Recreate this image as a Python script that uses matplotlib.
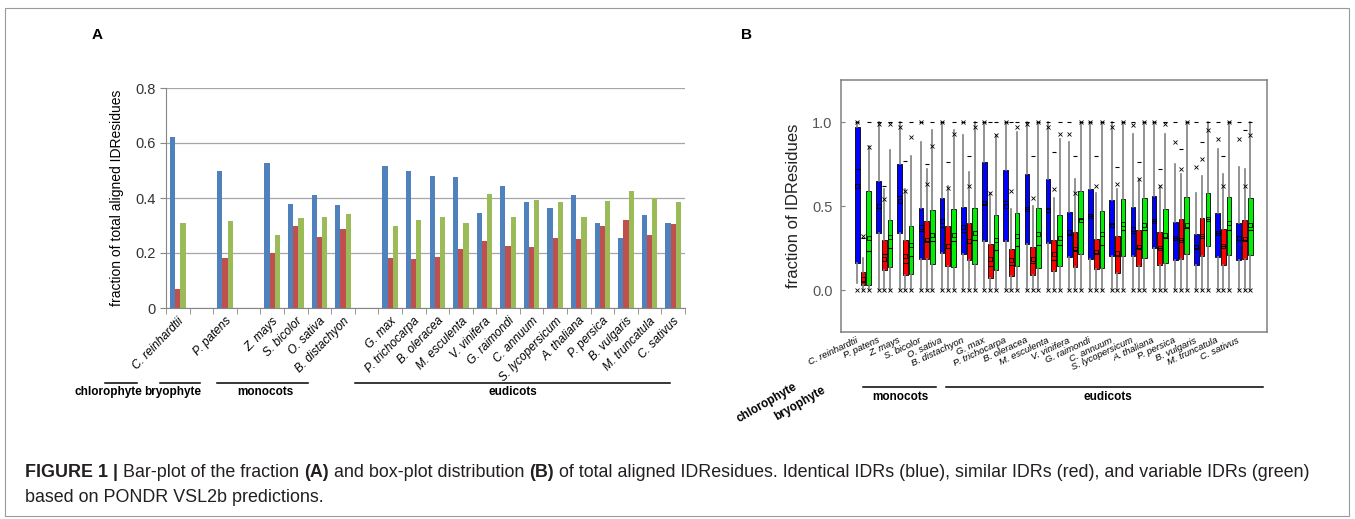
import numpy as np
import matplotlib
matplotlib.use("Agg")
import matplotlib.pyplot as plt
from matplotlib.lines import Line2D
from matplotlib.patches import Rectangle
import matplotlib.transforms as mtransforms

plt.rcParams['font.family'] = ['Liberation Sans', 'DejaVu Sans']

species = ["C. reinhardtii", "P. patens", "Z. mays", "S. bicolor", "O. sativa",
           "B. distachyon", "G. max", "P. trichocarpa", "B. oleracea", "M. esculenta",
           "V. vinifera", "G. raimondi", "C. annuum", "S. lycopersicum", "A. thaliana",
           "P. persica", "B. vulgaris", "M. truncatula", "C. sativus"]
# slot of each species in panel A (empty slots between the groups)
slots = [0, 2, 4, 5, 6, 7, 9, 10, 11, 12, 13, 14, 15, 16, 17, 18, 19, 20, 21]

# panel A, fraction of total aligned IDResidues
identical = [0.621, 0.50, 0.529, 0.377, 0.41, 0.374, 0.517, 0.50, 0.481, 0.475,
             0.344, 0.443, 0.385, 0.362, 0.412, 0.308, 0.254, 0.338, 0.308]
similar = [0.068, 0.182, 0.20, 0.297, 0.26, 0.289, 0.182, 0.179, 0.185, 0.214,
           0.242, 0.224, 0.221, 0.254, 0.25, 0.30, 0.32, 0.264, 0.305]
variable = [0.308, 0.317, 0.266, 0.326, 0.33, 0.342, 0.299, 0.32, 0.332, 0.31,
            0.416, 0.332, 0.394, 0.385, 0.33, 0.389, 0.424, 0.40, 0.385]

# panel B, box statistics (means are the bar values above)
blue_q1 = [0.163, 0.341, 0.341, 0.186, 0.22, 0.212, 0.29, 0.29, 0.272, 0.282,
           0.196, 0.182, 0.202, 0.202, 0.25, 0.18, 0.147, 0.196, 0.18]
blue_med = [0.72, 0.49, 0.56, 0.35, 0.375, 0.345, 0.51, 0.53, 0.48, 0.48,
            0.33, 0.44, 0.39, 0.34, 0.41, 0.31, 0.25, 0.34, 0.30]
blue_q3 = [0.968, 0.65, 0.752, 0.488, 0.548, 0.494, 0.762, 0.712, 0.692, 0.663,
           0.464, 0.603, 0.534, 0.494, 0.558, 0.405, 0.331, 0.458, 0.40]
blue_hi = [1.0, 1.0, 1.0, 0.88, 1.0, 0.92, 1.0, 1.0, 1.0, 1.0,
           0.88, 1.0, 1.0, 0.93, 1.0, 0.75, 0.58, 0.84, 0.73]
blue_lo = [0.04, 0, 0, 0, 0, 0, 0, 0, 0, 0, 0, 0, 0, 0, 0, 0, 0, 0, 0]
blue_x = [1.0, 0.99, 0.97, 1.0, 1.0, 1.0, 1.0, 1.0, 0.99, 0.97,
          0.93, 1.0, 0.97, 0.98, 1.0, 0.88, 0.73, 0.90, 0.90]

red_q1 = [0.028, 0.117, 0.087, 0.186, 0.14, 0.177, 0.07, 0.083, 0.09, 0.111,
          0.137, 0.127, 0.103, 0.143, 0.151, 0.186, 0.202, 0.151, 0.186]
red_med = [0.05, 0.216, 0.163, 0.29, 0.25, 0.28, 0.14, 0.15, 0.16, 0.18,
           0.24, 0.22, 0.20, 0.25, 0.25, 0.30, 0.32, 0.26, 0.30]
red_q3 = [0.107, 0.30, 0.30, 0.41, 0.38, 0.40, 0.276, 0.246, 0.256, 0.296,
          0.345, 0.306, 0.32, 0.355, 0.345, 0.425, 0.43, 0.365, 0.419]
red_hi = [0.19, 0.60, 0.60, 0.72, 0.62, 0.70, 0.58, 0.48, 0.50, 0.55,
          0.66, 0.58, 0.60, 0.66, 0.62, 0.69, 0.68, 0.69, 0.72]
red_x = [0.32, 0.54, 0.59, 0.63, 0.61, 0.62, 0.58, 0.59, 0.55, 0.60,
         0.58, 0.62, 0.63, 0.66, 0.62, 0.72, 0.78, 0.62, 0.62]
red_dash = [0.31, 0.62, 0.77, 0.75, 0.76, 0.80, 1.0, 1.0, 0.80, 0.82,
            0.80, 0.80, 0.73, 0.76, 0.72, 0.84, 0.88, 0.80, 0.95]

green_q1 = [0.028, 0.135, 0.097, 0.153, 0.137, 0.157, 0.117, 0.143, 0.131, 0.143,
            0.216, 0.131, 0.202, 0.192, 0.163, 0.212, 0.262, 0.21, 0.206]
green_med = [0.232, 0.25, 0.20, 0.29, 0.29, 0.30, 0.24, 0.26, 0.27, 0.27,
             0.42, 0.27, 0.36, 0.36, 0.31, 0.37, 0.42, 0.36, 0.36]
green_q3 = [0.587, 0.415, 0.379, 0.478, 0.484, 0.49, 0.444, 0.458, 0.49, 0.448,
            0.587, 0.468, 0.544, 0.548, 0.48, 0.553, 0.577, 0.552, 0.548]
green_hi = [0.855, 0.835, 0.80, 0.95, 0.95, 1.0, 0.92, 0.94, 1.0, 0.90,
            1.0, 1.0, 1.0, 1.0, 0.93, 1.0, 1.0, 1.0, 1.0]
green_x = [0.85, 0.99, 0.91, 0.86, 0.93, 0.97, 0.92, 0.97, 1.0, 0.93,
           1.0, 1.0, 1.0, 1.0, 0.99, 1.0, 0.95, 1.0, 0.92]

W, H = 1355, 519
fig = plt.figure(figsize=(W / 100, H / 100), dpi=100)


def fx(x):
    return x / W


def fy(y):
    return 1 - y / H


fig.add_artist(Rectangle((fx(5), fy(516)), fx(1349) - fx(5), fy(8) - fy(516),
                         transform=fig.transFigure, fill=False, ec='#9a9a9a', lw=0.8))

# ---------------- panel A
axA = fig.add_axes([fx(166), fy(308), fx(685) - fx(166), fy(88) - fy(308)])
pos = np.array(slots)
bw = 0.22
axA.bar(pos - bw, identical, bw, color='#4F81BD', zorder=2)
axA.bar(pos, similar, bw, color='#C0504D', zorder=2)
axA.bar(pos + bw, variable, bw, color='#9BBB59', zorder=2)
axA.set_xlim(-0.5, 21.5)
axA.set_ylim(0, 0.8)
axA.set_yticks([0, 0.2, 0.4, 0.6, 0.8], ['0', '0.2', '0.4', '0.6', '0.8'])
axA.yaxis.grid(True, color='#a6a6a6', lw=0.9)
axA.set_axisbelow(True)
for s in ['top', 'right']:
    axA.spines[s].set_visible(False)
for s in ['left', 'bottom']:
    axA.spines[s].set_color('#868686')
axA.tick_params(axis='y', labelsize=10.5, color='#868686', length=4, labelcolor='#333333')
labelsA = [''] * 22
for name, p in zip(species, slots):
    labelsA[p] = name
axA.set_xticks(range(22))
axA.set_xticklabels(labelsA, rotation=46, ha='right', rotation_mode='anchor',
                    fontstyle='italic', fontsize=8.6)
axA.set_xticks(np.arange(-0.5, 22, 1), minor=True)
axA.tick_params(axis='x', which='major', length=0, pad=5)
axA.tick_params(axis='x', which='minor', length=4, color='#868686')
axA.set_ylabel('fraction of total aligned IDResidues', fontsize=10, labelpad=8)

for x0, x1, tx, name in [(105, 137, 108, 'chlorophyte'), (160, 200, 173, 'bryophyte'),
                         (217, 308, 265, 'monocots'), (355, 670, 513, 'eudicots')]:
    fig.add_artist(Line2D([fx(x0), fx(x1)], [fy(383), fy(383)], color='k', lw=1.1))
    fig.text(fx(tx), fy(392), name, ha='center', va='center', fontsize=8.5,
             fontweight='bold')

fig.text(fx(97), fy(35), 'A', ha='center', va='center', fontsize=11, fontweight='bold')
fig.text(fx(746), fy(35), 'B', ha='center', va='center', fontsize=11, fontweight='bold')

# ---------------- panel B
axB = fig.add_axes([fx(841), fy(332), fx(1267) - fx(841), fy(80) - fy(332)])
axB.set_xlim(-1.04, 19.06)
axB.set_ylim(-0.25, 1.25)
series = [
    (-0.27, '#0000ff', blue_q1, blue_med, blue_q3, blue_lo, blue_hi, identical, blue_x, [1.0] * 19),
    (0.0, '#ff0000', red_q1, red_med, red_q3, [0] * 19, red_hi, similar, red_x, red_dash),
    (0.27, '#00ee00', green_q1, green_med, green_q3, [0] * 19, green_hi, variable, green_x, [1.0] * 19),
]
idx = np.arange(19)
for off, col, q1, med, q3, lo, hi, mean, xm, dm in series:
    stats = []
    for i in range(19):
        stats.append(dict(q1=q1[i], med=med[i], q3=q3[i], whislo=lo[i], whishi=hi[i],
                          mean=mean[i], fliers=[]))
    axB.bxp(stats, positions=idx + off, widths=0.22, patch_artist=True, showmeans=True,
            showcaps=False, showfliers=False, manage_ticks=False,
            boxprops=dict(facecolor=col, edgecolor='k', lw=0.6),
            medianprops=dict(color='k', lw=0.8),
            whiskerprops=dict(color='#808080', lw=1.2),
            meanprops=dict(marker='s', mfc='none', mec='k', ms=3.2, mew=0.6))
    axB.plot(idx + off, xm, 'x', ms=2.8, mec='k', mew=0.6, ls='none')
    axB.plot(idx + off, dm, '_', ms=3.5, mec='k', mew=0.8, ls='none')
    axB.plot(idx + off, [0.0] * 19, 'x', ms=2.8, mec='k', mew=0.6, ls='none')

axB.set_yticks([0.0, 0.5, 1.0], ['0.0', '0.5', '1.0'])
axB.set_xticks([])
axB.tick_params(axis='y', direction='in', length=3, color='#808080', labelsize=10.5,
                labelcolor='#555555', pad=6)
for s in axB.spines.values():
    s.set_color('#808080')
    s.set_linewidth(1.1)
axB.set_ylabel('fraction of IDResidues', fontsize=12, color='#222222', labelpad=8)

trB = mtransforms.blended_transform_factory(axB.transData, axB.transAxes)
for i, name in enumerate(species):
    axB.text(i - 0.35, -0.015, name, transform=trB, rotation=25, ha='right', va='top',
             rotation_mode='anchor', fontstyle='italic', fontsize=6.8, clip_on=False)

fig.text(fx(798), fy(389), 'chlorophyte', rotation=30, ha='right', va='baseline',
         rotation_mode='anchor', fontsize=8.5, fontweight='bold')
fig.text(fx(826), fy(392), 'bryophyte', rotation=30, ha='right', va='baseline',
         rotation_mode='anchor', fontsize=8.5, fontweight='bold')
for x0, x1, tx, name in [(863, 936, 900, 'monocots'), (946, 1263, 1108, 'eudicots')]:
    fig.add_artist(Line2D([fx(x0), fx(x1)], [fy(387), fy(387)], color='k', lw=1.1))
    fig.text(fx(tx), fy(397), name, ha='center', va='center', fontsize=8.5,
             fontweight='bold')

# ---------------- caption
cap1 = [('FIGURE 1 |', True), (' Bar-plot of the fraction ', False), ('(A)', True),
        (' and box-plot distribution ', False), ('(B)', True),
        (' of total aligned IDResidues. Identical IDRs (blue), similar IDRs (red), '
         'and variable IDRs (green)', False)]
cap2 = [('based on PONDR VSL2b predictions.', False)]
renderer = fig.canvas.get_renderer()
cfont = ['Liberation Sans Narrow', 'Liberation Sans']


def draw_line(parts, x, y, size):
    for s, b in parts:
        t = fig.text(fx(x), fy(y), s.replace(' ', '\u00a0'), fontsize=size,
                     fontweight='bold' if b else 'normal', family=cfont,
                     color='#231f20', va='baseline')
        x += t.get_window_extent(renderer).width
    return x


# fit the first line to its width in the reference
probe = fig.text(0, 0, ''.join(s for s, b in cap1), fontsize=10, family=cfont)
pw = probe.get_window_extent(renderer).width
probe.remove()
csize = 10 * (1312 - 25) / pw
draw_line(cap1, 25, 477, csize)
draw_line(cap2, 25, 502, csize)

fig.savefig('out.png', dpi=100)
